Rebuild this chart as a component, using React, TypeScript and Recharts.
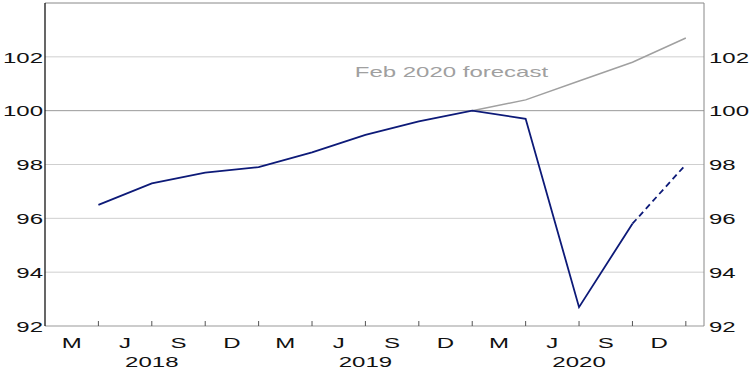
import React from 'react';
import { LineChart, Line, XAxis, YAxis, ReferenceLine, ReferenceDot } from 'recharts';

// Quarter-end positions (1 = end of March quarter 2018 ... 12 = end of Dec quarter 2020)
const quarters = ['Mar-18', 'Jun-18', 'Sep-18', 'Dec-18', 'Mar-19', 'Jun-19', 'Sep-19', 'Dec-19', 'Mar-20', 'Jun-20', 'Sep-20', 'Dec-20'];
const actual = [96.5, 97.3, 97.7, 97.9, 98.45, 99.1, 99.6, 100.0, 99.7, 92.7, 95.8, null];
const projected = [null, null, null, null, null, null, null, null, null, null, 95.8, 98.0];
const feb2020Forecast = [null, null, null, null, null, null, null, 100.0, 100.4, 101.1, 101.8, 102.7];

const monthLabels = ['M', 'J', 'S', 'D', 'M', 'J', 'S', 'D', 'M', 'J', 'S', 'D'];
const yearLabels = [
  { pos: 2, label: '2018' },
  { pos: 6, label: '2019' },
  { pos: 10, label: '2020' },
];
const yTicks = [92, 94, 96, 98, 100, 102];
const lightGrid = [94, 96, 98, 102];

const data = quarters.map((q, i) => ({
  q,
  pos: i + 1,
  actual: actual[i],
  projected: projected[i],
  forecast: feb2020Forecast[i],
}));

const xTicks: number[] = [];
monthLabels.forEach((_, i) => {
  xTicks.push(i + 0.5);
  xTicks.push(i + 1);
});

const FONT = '"Liberation Sans", Arial, sans-serif';
const SX = 1.55;
const FS = 15.5;

const XTick = (props: any) => {
  const { x, y, payload } = props;
  const v = payload.value as number;
  if (Number.isInteger(v)) {
    const yr = yearLabels.find((d) => d.pos === v);
    return (
      <g>
        <line x1={x} x2={x} y1={y - 5} y2={y} stroke="#555" strokeWidth={1} />
        {yr && (
          <g transform={`translate(${x},${y + 40.5}) scale(${SX},1)`}>
            <text x={0} y={0} textAnchor="middle" fontSize={FS} fontFamily={FONT} fill="#111">
              {yr.label}
            </text>
          </g>
        )}
      </g>
    );
  }
  const idx = Math.floor(v);
  return (
    <g transform={`translate(${x},${y + 22}) scale(${SX},1)`}>
      <text x={0} y={0} textAnchor="middle" fontSize={FS} fontFamily={FONT} fill="#111">
        {monthLabels[idx]}
      </text>
    </g>
  );
};

const YTickLeft = (props: any) => {
  const { x, y, payload } = props;
  return (
    <g transform={`translate(${x},${y + 5.8}) scale(${SX},1)`}>
      <text x={0} y={0} textAnchor="end" fontSize={FS} fontFamily={FONT} fill="#111">
        {payload.value}
      </text>
    </g>
  );
};

const YTickRight = (props: any) => {
  const { x, y, payload } = props;
  return (
    <g transform={`translate(${x},${y + 5.8}) scale(${SX},1)`}>
      <text x={0} y={0} textAnchor="start" fontSize={FS} fontFamily={FONT} fill="#111">
        {payload.value}
      </text>
    </g>
  );
};

const ForecastLabel = (props: any) => {
  const { cx, cy } = props;
  return (
    <g transform={`translate(${cx},${cy}) scale(1.6,1)`}>
      <text x={0} y={0} textAnchor="start" fontSize={15} fontFamily={FONT} fill="#a0a0a0">
        Feb 2020 forecast
      </text>
    </g>
  );
};

export default function App() {
  return (
    <div style={{ position: 'absolute', left: 0, top: 0, background: '#fff' }}>
      <LineChart width={754} height={376} data={data} margin={{ top: 3, right: 0, bottom: 0, left: 0 }}>
        <XAxis
          dataKey="pos"
          type="number"
          domain={[0, 12.34]}
          ticks={xTicks}
          interval={0}
          tickSize={0}
          tickMargin={0}
          tickLine={false}
          axisLine={{ stroke: '#999', strokeWidth: 1 }}
          height={50}
          tick={<XTick />}
          allowDataOverflow
        />
        <YAxis
          yAxisId="left"
          orientation="left"
          domain={[92, 104]}
          ticks={yTicks}
          interval={0}
          width={45}
          tickSize={0}
          tickMargin={2}
          tickLine={false}
          axisLine={{ stroke: '#000', strokeWidth: 1.2 }}
          tick={<YTickLeft />}
          allowDataOverflow
        />
        <YAxis
          yAxisId="right"
          orientation="right"
          domain={[92, 104]}
          ticks={yTicks}
          interval={0}
          width={50}
          tickSize={0}
          tickMargin={5}
          tickLine={false}
          axisLine={{ stroke: '#888', strokeWidth: 1 }}
          tick={<YTickRight />}
          allowDataOverflow
        />
        {lightGrid.map((v) => (
          <ReferenceLine key={v} yAxisId="left" y={v} stroke="#cfcfcf" strokeWidth={1} />
        ))}
        <ReferenceLine yAxisId="left" y={100} stroke="#999" strokeWidth={1} />
        <ReferenceLine yAxisId="left" y={104} stroke="#888" strokeWidth={1} />
        <ReferenceDot yAxisId="left" x={5.8} y={101.26} r={0} shape={<ForecastLabel />} />
        <Line
          yAxisId="left"
          dataKey="forecast"
          stroke="#a0a0a0"
          strokeWidth={1.5}
          dot={false}
          isAnimationActive={false}
        />
        <Line
          yAxisId="left"
          dataKey="actual"
          stroke="#0d1a78"
          strokeWidth={1.8}
          dot={false}
          isAnimationActive={false}
        />
        <Line
          yAxisId="left"
          dataKey="projected"
          stroke="#0d1a78"
          strokeWidth={1.8}
          strokeDasharray="6 4"
          dot={false}
          isAnimationActive={false}
        />
      </LineChart>
    </div>
  );
}
